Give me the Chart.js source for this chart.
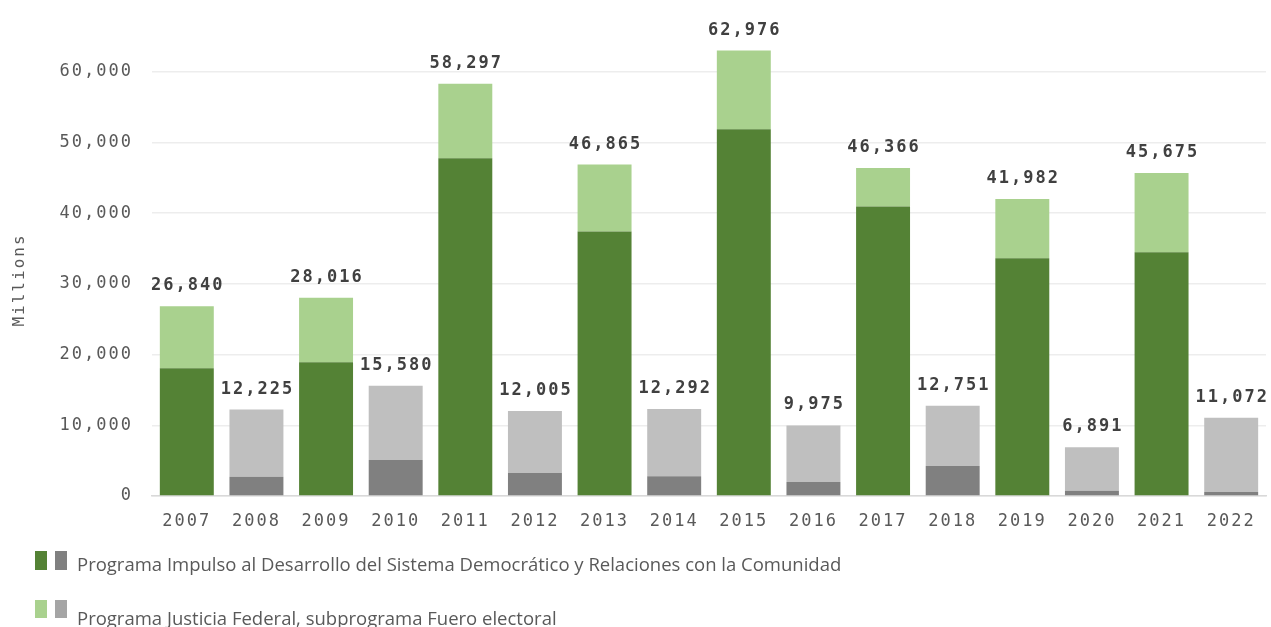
<!DOCTYPE html>
<html>
<head>
<meta charset="utf-8">
<script src="https://cdn.jsdelivr.net/npm/chart.js@4"></script>
<style>
  body { margin: 0; background: #fff; }
  #wrap { position: relative; width: 1271px; height: 627px; overflow: hidden; }
  .sw { position: absolute; width: 12px; height: 19px; }
  .lg { position: absolute; left: 77px; font-family: "Open Sans", sans-serif; font-size: 18.5px;
        line-height: 18.5px; color: #595959; white-space: nowrap; }
</style>
</head>
<body>
<div id="wrap">
  <canvas id="barChart" width="1271" height="627"></canvas>
  <div class="sw" style="left:35px;top:551px;background:#548235"></div>
  <div class="sw" style="left:55px;top:551px;background:#808080"></div>
  <div class="lg" style="top:555px">Programa Impulso al Desarrollo del Sistema Democrático y Relaciones con la Comunidad</div>
  <div class="sw" style="left:35px;top:600px;height:18px;background:#A9D18E"></div>
  <div class="sw" style="left:55px;top:600px;height:18px;background:#A5A5A5"></div>
  <div class="lg" style="top:609px">Programa Justicia Federal, subprograma Fuero electoral</div>
</div>
<script>
// datos
const anios = ['2007', '2008', '2009', '2010', '2011', '2012', '2013', '2014',
               '2015', '2016', '2017', '2018', '2019', '2020', '2021', '2022'];
const impulso = [18070, 2730, 18920, 5080, 47760, 3250, 37410, 2780,
                 51860, 1980, 40940, 4240, 33600, 750, 34450, 560];
const justicia = [8770, 9495, 9096, 10500, 10537, 8755, 9455, 9512,
                  11116, 7995, 5426, 8511, 8382, 6141, 11225, 10512];
const totales = [26840, 12225, 28016, 15580, 58297, 12005, 46865, 12292,
                 62976, 9975, 46366, 12751, 41982, 6891, 45675, 11072];
const marcasY = [0, 10000, 20000, 30000, 40000, 50000, 60000];

const fmt = v => v.toLocaleString('en-US');
const colorPar = (verde, gris) => ctx => (ctx.dataIndex % 2 === 0 ? verde : gris);

// totales encima de cada barra + titulo del eje
const pluginEtiquetas = {
    id: 'etiquetas',
    beforeDraw(chart) {
        chart.ctx.letterSpacing = '2px';
    },
    afterDatasetsDraw(chart) {
        const { ctx } = chart;
        const meta = chart.getDatasetMeta(1);
        ctx.save();
        ctx.letterSpacing = '2px';
        ctx.font = 'bold 17px "DejaVu Sans Mono", monospace';
        ctx.fillStyle = '#404040';
        ctx.textAlign = 'center';
        ctx.textBaseline = 'alphabetic';
        meta.data.forEach((bar, i) => {
            ctx.fillText(fmt(totales[i]), bar.x + 1, bar.y - 16);
        });
        // Millions
        ctx.translate(20, 280);
        ctx.rotate(-Math.PI / 2);
        ctx.font = '16px "DejaVu Sans Mono", monospace';
        ctx.fillStyle = '#595959';
        ctx.textBaseline = 'middle';
        ctx.fillText('Millions', 0, 0);
        ctx.restore();
    }
};

const grafico = new Chart(document.getElementById('barChart'), {
    type: 'bar',
    data: {
        labels: anios,
        datasets: [
            {
                label: 'Programa Impulso al Desarrollo del Sistema Democrático y Relaciones con la Comunidad',
                data: impulso,
                backgroundColor: colorPar('#548235', '#808080')
            },
            {
                label: 'Programa Justicia Federal, subprograma Fuero electoral',
                data: justicia,
                backgroundColor: colorPar('#A9D18E', '#BFBFBF')
            }
        ]
    },
    options: {
        responsive: false,
        animation: false,
        barPercentage: 0.775,
        categoryPercentage: 1,
        layout: { padding: { top: 26, right: 5, bottom: 91, left: 0 } },
        plugins: {
            legend: { display: false },
            tooltip: { enabled: false }
        },
        scales: {
            x: {
                stacked: true,
                afterFit: s => { s.height = 40; },
                grid: { display: false, drawTicks: false },
                border: { color: '#D9D9D9', width: 1.5 },
                ticks: {
                    padding: 15,
                    color: '#595959',
                    font: { family: '"DejaVu Sans Mono", monospace', size: 17 }
                }
            },
            y: {
                stacked: true,
                min: 0,
                max: 66000,
                afterFit: s => { s.width = 152; },
                afterBuildTicks: s => { s.ticks = marcasY.map(v => ({ value: v })); },
                grid: { color: '#EDEDED', lineWidth: 1.5, drawTicks: false },
                border: { display: false },
                ticks: {
                    autoSkip: false,
                    padding: 19,
                    color: '#595959',
                    callback: v => fmt(v),
                    font: { family: '"DejaVu Sans Mono", monospace', size: 17 }
                }
            }
        }
    },
    plugins: [pluginEtiquetas]
});
</script>
</body>
</html>
